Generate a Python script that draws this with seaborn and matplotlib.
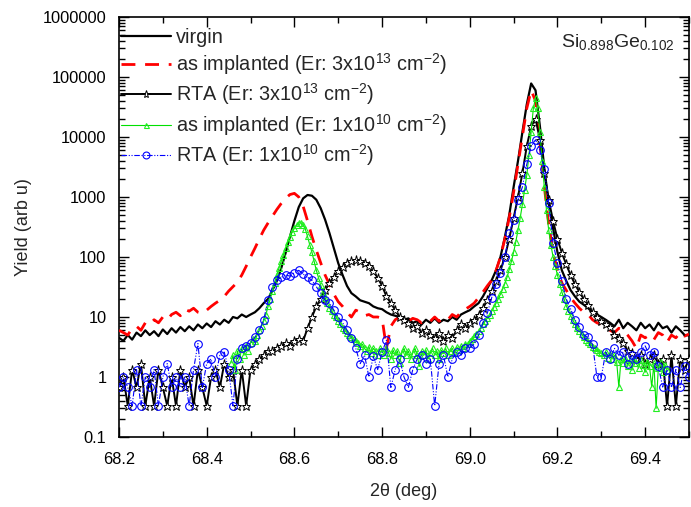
import numpy as np
import pandas as pd
import matplotlib
matplotlib.use("Agg")
import matplotlib.pyplot as plt
import seaborn as sns
from matplotlib.ticker import LogLocator, NullFormatter, MultipleLocator

# ---------------- data ----------------
x_start = 68.20
x_step = 0.01

virgin = [4.5, 4.0, 5.0, 4.2, 5.5, 4.8, 6.0, 5.0, 5.8, 4.8,
          6.2, 5.2, 6.5, 5.5, 6.8, 5.8, 7.0, 6.0, 7.5, 6.5,
          7.8, 6.8, 8.5, 7.5, 9.0, 8.0, 10, 9.5, 11, 10,
          11, 12, 14, 17, 20, 28, 40, 65, 117, 220,
          400, 680, 950, 1080, 1050, 900, 650, 420, 250, 140,
          79, 50, 33, 25, 22, 19, 18, 17, 15, 14,
          13.5, 12, 11, 10.5, 10, 9, 9.5, 8, 8.5, 7.5,
          9, 8, 9.5, 8, 9, 8.5, 10, 9, 11, 12,
          13, 15, 17, 22, 30, 41, 60, 100, 215, 500,
          1470, 4000, 12000, 35000, 78000, 60000, 15000, 3000, 800, 300,
          120, 60, 40, 28, 22, 18, 16, 14, 12, 11,
          10, 9, 8, 7, 9, 6.5, 8, 7, 6, 8,
          6.5, 7.5, 6, 8, 6.5, 7, 5.5, 7, 6, 5, 5]

as_impl_3e13 = [6.0, 5.5, 5.0, 6.5, 7.0, 6.0, 8.0, 7.5, 9.0, 8.0,
                10, 9.0, 11, 12, 10.5, 13.5, 12.5, 14, 12, 11.5,
                13, 15, 17, 19, 22, 27, 32, 38, 50, 70,
                100, 140, 200, 280, 370, 480, 620, 780, 950, 1100,
                1150, 1000, 700, 400, 220, 130, 80, 50, 35, 24,
                18, 15, 12, 10, 13, 12, 10.5, 11, 10, 10,
                9.5, 3.0, 7, 9, 10, 9, 8.5, 9.5, 9, 8,
                9, 8.5, 10, 8.5, 9.5, 9, 11, 10, 12, 13.5,
                15, 17, 21, 26, 33, 41, 60, 100, 200, 450,
                1200, 3500, 10000, 30000, 60000, 40000, 8000, 1500, 350, 120,
                60, 37, 28, 21, 17, 14, 12, 11, 9, 8,
                7.5, 6.5, 6, 5.5, 6.5, 6, 5, 4, 3, 5,
                4.5, 5, 4.2, 5.5, 5, 3.8, 5, 4.5, 5.5, 4.8, 5.2]

rta_3e13 = [0.67, 1.0, 0.33, 1.33, 0.67, 1.67, 0.33, 1.0, 0.33, 1.33,
            0.67, 0.33, 1.0, 0.33, 1.33, 0.67, 1.0, 0.33, 1.33, 0.67,
            0.33, 1.0, 1.33, 0.67, 1.67, 1.0, 1.33, 0.33, 1.33, 0.33,
            1.33, 1.67, 2.0, 2.3, 2.7, 2.7, 3.0, 3.3, 3.7, 3.3,
            4.0, 4.3, 4.0, 6.5, 10, 15, 20, 28, 37, 47,
            58, 68, 78, 85, 88, 85, 78, 70, 58, 45,
            33, 22, 17, 13, 10, 9, 8, 6.5, 7, 5.5,
            6, 5, 4.5, 5.5, 4, 5, 4.5, 6, 7.5, 6.5,
            8, 9, 11, 14, 19, 27, 40, 60, 100, 200,
            450, 1000, 2500, 7000, 15000, 20000, 9000, 2500, 900, 400,
            200, 117, 75, 50, 35, 26, 20, 16, 12, 10,
            8.5, 7.5, 6.8, 5, 4.5, 3.7, 2.7, 2.5, 2.0, 2.3,
            1.67, 2.0, 2.3, 1.67, 2.0, 0.33, 2.3, 0.33, 2.0, 1.33, 2.0]

rta_1e10 = [0.67, 1.0, 0.67, 0.33, 1.33, 0.33, 1.0, 0.67, 1.33, 0.33,
            1.0, 1.67, 0.67, 1.0, 0.67, 1.0, 0.33, 1.33, 3.6, 0.67,
            1.67, 2.0, 1.0, 2.3, 2.6, 1.33, 0.33, 2.0, 3.0, 3.3,
            3.7, 4.6, 6.0, 9, 19, 32, 41, 46, 50, 48,
            55, 60, 52, 46, 41, 32, 25, 19, 17, 13,
            10, 8, 6, 4.5, 3, 1.67, 2.3, 1.0, 2.2, 1.33,
            2.6, 4.1, 0.67, 1.33, 2.0, 1.0, 0.67, 1.33, 2.0, 2.3,
            1.67, 2.0, 0.33, 1.67, 2.3, 1.0, 2.0, 2.6, 2.3, 3.0,
            3.1, 3.5, 5, 8, 11.6, 21, 35, 54, 100, 250,
            420, 900, 1470, 3500, 7000, 9000, 6000, 2900, 790, 170,
            79, 40, 20, 13.6, 9, 6.8, 5, 4.6, 3.5, 1.0,
            1.0, 2.6, 2.0, 3.0, 2.3, 2.6, 1.67, 2.3, 2.0, 2.6,
            3.3, 2.3, 2.6, 1.5, 0.68, 1.33, 0.67, 1.33, 0.67, 1.5, 1.0]

g_start = 68.455
g_step = 0.005
as_impl_1e10 = [1.7, 2.3, 1.3, 2.7, 2.0, 3.0, 2.3, 3.3, 2.7, 3.7,
                4.3, 4.0, 5.0, 6.0, 7.0, 8.5, 11, 15, 20, 27,
                37, 50, 66, 85, 110, 140, 175, 215, 260, 300,
                340, 370, 375, 340, 290, 220, 160, 120, 85, 60,
                45, 34, 26, 21, 17, 14, 12.5, 11, 10, 8.5,
                7.5, 6.5, 6, 5.5, 5, 4.6, 4.3, 4.0, 3.7, 3.3,
                3.5, 3.0, 2.7, 3.2, 2.5, 3.0, 2.7, 2.3, 3.0, 2.7,
                2.3, 3.0, 2.5, 2.0, 2.8, 2.3, 2.7, 1.7, 2.5, 3.0,
                2.3, 2.7, 2.0, 2.5, 3.0, 2.3, 1.5, 2.7, 2.3, 2.8,
                2.0, 2.5, 3.0, 2.3, 2.7, 2.0, 2.8, 2.5, 3.0, 2.3,
                2.7, 3.0, 2.5, 3.2, 2.8, 3.3, 3.0, 3.6, 3.5, 4.0,
                4.3, 4.8, 5.2, 5.8, 6.5, 7.5, 8.5, 9.5, 11, 12.5,
                14.5, 17, 20, 24, 29, 36, 46, 62, 85, 120,
                180, 280, 450, 750, 1300, 2300, 5000, 12000, 30000, 45000,
                30000, 12000, 4000, 1470, 600, 280, 160, 100, 70, 50,
                36, 26, 20, 15.5, 12.5, 10.5, 9, 7.5, 6.5, 5.8,
                5.2, 4.6, 4.2, 3.8, 3.5, 3.2, 3.0, 2.8, 2.6, 2.5,
                2.3, 2.6, 2.1, 2.4, 2.0, 2.3, 1.8, 0.68, 2.0, 1.7,
                2.1, 1.5, 1.9, 1.3, 2.0, 1.7, 1.4, 1.9, 1.6, 1.2,
                1.8, 1.5, 0.68, 1.7, 0.3, 1.4, 1.8, 1.2, 1.6, 1.3]

labels = ["virgin",
          "as implanted (Er: 3x10$^{13}$ cm$^{-2}$)",
          "RTA (Er: 3x10$^{13}$ cm$^{-2}$)",
          "as implanted (Er: 1x10$^{10}$ cm$^{-2}$)",
          "RTA (Er: 1x10$^{10}$ cm$^{-2}$)"]

y_ticks = [0.1, 1, 10, 100, 1000, 10000, 100000, 1000000]
y_ticklabels = ["0.1", "1", "10", "100", "1000", "10000", "100000", "1000000"]
x_ticks = [68.2, 68.4, 68.6, 68.8, 69.0, 69.2, 69.4]
x_ticklabels = ["68.2", "68.4", "68.6", "68.8", "69.0", "69.2", "69.4"]

# ---------------- plotting ----------------
sns.set_theme(style="ticks")
plt.rcParams["font.family"] = ["Liberation Sans", "DejaVu Sans"]
plt.rcParams["mathtext.fontset"] = "custom"
plt.rcParams["mathtext.rm"] = "Liberation Sans"
plt.rcParams["mathtext.it"] = "Liberation Sans:italic"
plt.rcParams["mathtext.bf"] = "Liberation Sans:bold"

def xgrid(start, step, n):
    return np.round(start + step * np.arange(n), 4)

df_main = pd.DataFrame({
    "x": xgrid(x_start, x_step, len(virgin)),
    "virgin": virgin,
    "ai3": as_impl_3e13,
    "rta3": rta_3e13,
    "rta10": rta_1e10,
})
df_g = pd.DataFrame({"x": xgrid(g_start, g_step, len(as_impl_1e10)),
                     "ai10": as_impl_1e10})

fig = plt.figure(figsize=(6.91, 5.07), dpi=100)
ax = fig.add_axes([119/691, 70/507, 570/691, 420/507])

common = dict(ax=ax, sort=False, estimator=None, errorbar=None)
sns.lineplot(data=df_main, x="x", y="virgin", color="black", lw=1.6,
             label=labels[0], zorder=2, **common)
sns.lineplot(data=df_main, x="x", y="ai3", color="#ff0000", lw=2.0,
             dashes=False, linestyle=(0, (5, 3.5)), label=labels[1], zorder=3, **common)
sns.lineplot(data=df_main, x="x", y="rta3", color="black", lw=1.4,
             marker="*", markersize=6.5, markerfacecolor="white",
             markeredgecolor="black", markeredgewidth=0.7,
             label=labels[2], zorder=4, **common)
sns.lineplot(data=df_g, x="x", y="ai10", color="#00e000", lw=0.8,
             marker="^", markersize=4, markerfacecolor="none",
             markeredgecolor="#22ee22", markeredgewidth=0.8,
             label=labels[3], zorder=5, **common)
sns.lineplot(data=df_main, x="x", y="rta10", color="#0000ff", lw=0.8,
             dashes=False, linestyle=(0, (5, 1.5, 1, 1.5, 1, 1.5)),
             marker="o", markersize=5.5, markerfacecolor="none",
             markeredgecolor="#0000ff", markeredgewidth=0.8,
             label=labels[4], zorder=6, **common)

ax.set_yscale("log")
ax.set_xlim(68.2, 69.5)
ax.set_ylim(0.1, 1e6)
ax.set_yticks(y_ticks)
ax.set_yticklabels(y_ticklabels)
ax.yaxis.set_minor_locator(LogLocator(base=10, subs=np.arange(2, 10)))
ax.yaxis.set_minor_formatter(NullFormatter())
ax.set_xticks(x_ticks)
ax.set_xticklabels(x_ticklabels)
ax.xaxis.set_minor_locator(MultipleLocator(0.1))

ax.tick_params(which="both", direction="in", top=True, right=True,
               colors="black", width=1.0)
ax.tick_params(which="major", length=7, labelsize=11.8)
ax.tick_params(axis="x", which="major", pad=11)
ax.tick_params(axis="y", which="major", pad=9)
ax.tick_params(which="minor", length=4)
for s in ax.spines.values():
    s.set_linewidth(1.2)
    s.set_color("black")

ax.set_xlabel("2\u03b8 (deg)", fontsize=13, labelpad=11)
ax.set_ylabel("Yield (arb u)", fontsize=13, labelpad=8)

leg = ax.legend(loc="upper left", bbox_to_anchor=(-0.015, 1.0), frameon=False,
                fontsize=14.3, handlelength=2.5, handletextpad=0.25,
                labelspacing=0.22, borderaxespad=0.15, markerscale=0.9)

ax.text(0.975, 0.965, "Si$_{0.898}$Ge$_{0.102}$", transform=ax.transAxes,
        ha="right", va="top", fontsize=14)

fig.savefig("out.png", dpi=100)
